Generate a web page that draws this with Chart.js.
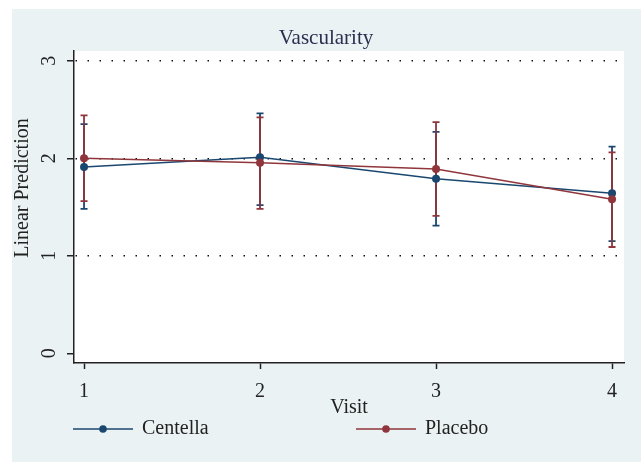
<!DOCTYPE html>
<html>
<head>
<meta charset="utf-8">
<script src="https://cdn.jsdelivr.net/npm/chart.js@4.4.1/dist/chart.umd.min.js"></script>
<style>
    html, body { margin: 0; padding: 0; background: #fff; }
</style>
</head>
<body>
<canvas id="grafico" width="641" height="462"></canvas>
<script>
// valores
const visits = [1, 2, 3, 4];
const centella = [1.91, 2.01, 1.79, 1.64];
const centellaLow = [1.48, 1.52, 1.31, 1.15];
const centellaHigh = [2.35, 2.46, 2.27, 2.12];
const placebo = [2.00, 1.955, 1.89, 1.58];
const placeboLow = [1.56, 1.48, 1.41, 1.09];
const placeboHigh = [2.44, 2.42, 2.37, 2.06];
const xTicks = [1, 2, 3, 4];
const yTicks = [0, 1, 2, 3];

const NAVY = "#1a476f";
const MAROON = "#90353b";
const SERIF = "'Liberation Serif', serif";

Chart.defaults.font.family = SERIF;
Chart.defaults.color = "#222";

const intervalos = [
    { low: centellaLow, high: centellaHigh },
    { low: placeboLow, high: placeboHigh }
];

const fondo = {
    id: "fondo",
    beforeDraw(chart) {
        const { ctx, chartArea: a } = chart;
        ctx.save();
        ctx.fillStyle = "#ffffff";
        ctx.fillRect(0, 0, chart.width, chart.height);
        ctx.fillStyle = "#eaf2f3";
        ctx.fillRect(12, 9, chart.width - 12, chart.height - 9);
        ctx.fillStyle = "#ffffff";
        ctx.fillRect(a.left, a.top, a.right - a.left, a.bottom - a.top);
        ctx.restore();
    }
};

const barras = {
    id: "barras",
    beforeDatasetsDraw(chart) {
        const { ctx, scales: { x, y } } = chart;
        chart.data.datasets.forEach((ds, k) => {
            const ci = intervalos[k];
            ctx.save();
            ctx.strokeStyle = ds.borderColor;
            ctx.lineWidth = 1.8;
            visits.forEach((v, i) => {
                const px = x.getPixelForValue(v);
                const p1 = y.getPixelForValue(ci.low[i]);
                const p2 = y.getPixelForValue(ci.high[i]);
                ctx.beginPath();
                ctx.moveTo(px, p1); ctx.lineTo(px, p2);
                ctx.moveTo(px - 3.5, p1); ctx.lineTo(px + 3.5, p1);
                ctx.moveTo(px - 3.5, p2); ctx.lineTo(px + 3.5, p2);
                ctx.stroke();
            });
            ctx.restore();
        });
    }
};

const textos = {
    id: "textos",
    afterDraw(chart) {
        const ctx = chart.ctx;
        ctx.save();
        // título
        ctx.fillStyle = "#2b3050";
        ctx.font = "21px " + SERIF;
        ctx.textAlign = "center";
        ctx.textBaseline = "middle";
        ctx.fillText("Vascularity", 326, 38);
        // título eje y
        ctx.fillStyle = "#222";
        ctx.font = "20px " + SERIF;
        ctx.translate(23, 188);
        ctx.rotate(-Math.PI / 2);
        ctx.fillText("Linear Prediction", 0, 0);
        ctx.restore();

        // leyenda
        const items = [
            { x: 73, ds: chart.data.datasets[0] },
            { x: 356, ds: chart.data.datasets[1] }
        ];
        ctx.save();
        items.forEach(it => {
            const yy = 429;
            ctx.strokeStyle = it.ds.borderColor;
            ctx.lineWidth = 1.5;
            ctx.beginPath();
            ctx.moveTo(it.x, yy); ctx.lineTo(it.x + 60, yy);
            ctx.stroke();
            ctx.fillStyle = it.ds.borderColor;
            ctx.beginPath();
            ctx.arc(it.x + 30, yy, 3.8, 0, Math.PI * 2);
            ctx.fill();
            ctx.fillStyle = "#222";
            ctx.font = "20px " + SERIF;
            ctx.textAlign = "left";
            ctx.textBaseline = "middle";
            ctx.fillText(it.ds.label, it.x + 69, yy);
        });
        ctx.restore();
    }
};

const ctx = document.getElementById("grafico");
new Chart(ctx, {
    type: "line",
    data: {
        datasets: [
            {
                label: "Centella",
                data: visits.map((v, i) => ({ x: v, y: centella[i] })),
                borderColor: NAVY,
                backgroundColor: NAVY,
                borderWidth: 1.5,
                pointRadius: 4,
                pointBorderWidth: 0,
                tension: 0,
                order: 1
            },
            {
                label: "Placebo",
                data: visits.map((v, i) => ({ x: v, y: placebo[i] })),
                borderColor: MAROON,
                backgroundColor: MAROON,
                borderWidth: 1.5,
                pointRadius: 4,
                pointBorderWidth: 0,
                tension: 0,
                order: 0
            }
        ]
    },
    options: {
        responsive: false,
        animation: false,
        layout: { padding: { top: 51, left: 12, right: 17, bottom: 0 } },
        plugins: {
            legend: { display: false },
            title: { display: false },
            tooltip: { enabled: false }
        },
        scales: {
            x: {
                type: "linear",
                min: 0.943,
                max: 4.068,
                afterBuildTicks: s => { s.ticks = xTicks.map(v => ({ value: v })); },
                afterFit: s => { s.height = 99; },
                grid: { drawOnChartArea: false, drawTicks: true, tickLength: 6, tickColor: "#222", tickWidth: 1.5 },
                border: { color: "#222", width: 1.5 },
                ticks: { font: { size: 20 }, color: "#222", padding: 11, maxRotation: 0 },
                title: { display: true, text: "Visit", font: { size: 20 }, color: "#222", padding: { top: 0, bottom: 42 } }
            },
            y: {
                min: -0.1,
                max: 3.1,
                afterBuildTicks: s => { s.ticks = yTicks.map(v => ({ value: v })); },
                afterFit: s => { s.width = 62; },
                grid: {
                    color: c => (c.tick && c.tick.value === 0) ? "rgba(0,0,0,0)" : "#111",
                    lineWidth: 1.5,
                    tickLength: 7,
                    tickColor: "#222",
                    tickWidth: 1.5
                },
                border: { color: "#222", width: 1.5, dash: [1.5, 10.5], dashOffset: 11 },
                ticks: { font: { size: 20 }, color: "#222", padding: 12, minRotation: 90, maxRotation: 90, crossAlign: "center" }
            }
        }
    },
    plugins: [fondo, barras, textos]
});
</script>
</body>
</html>
